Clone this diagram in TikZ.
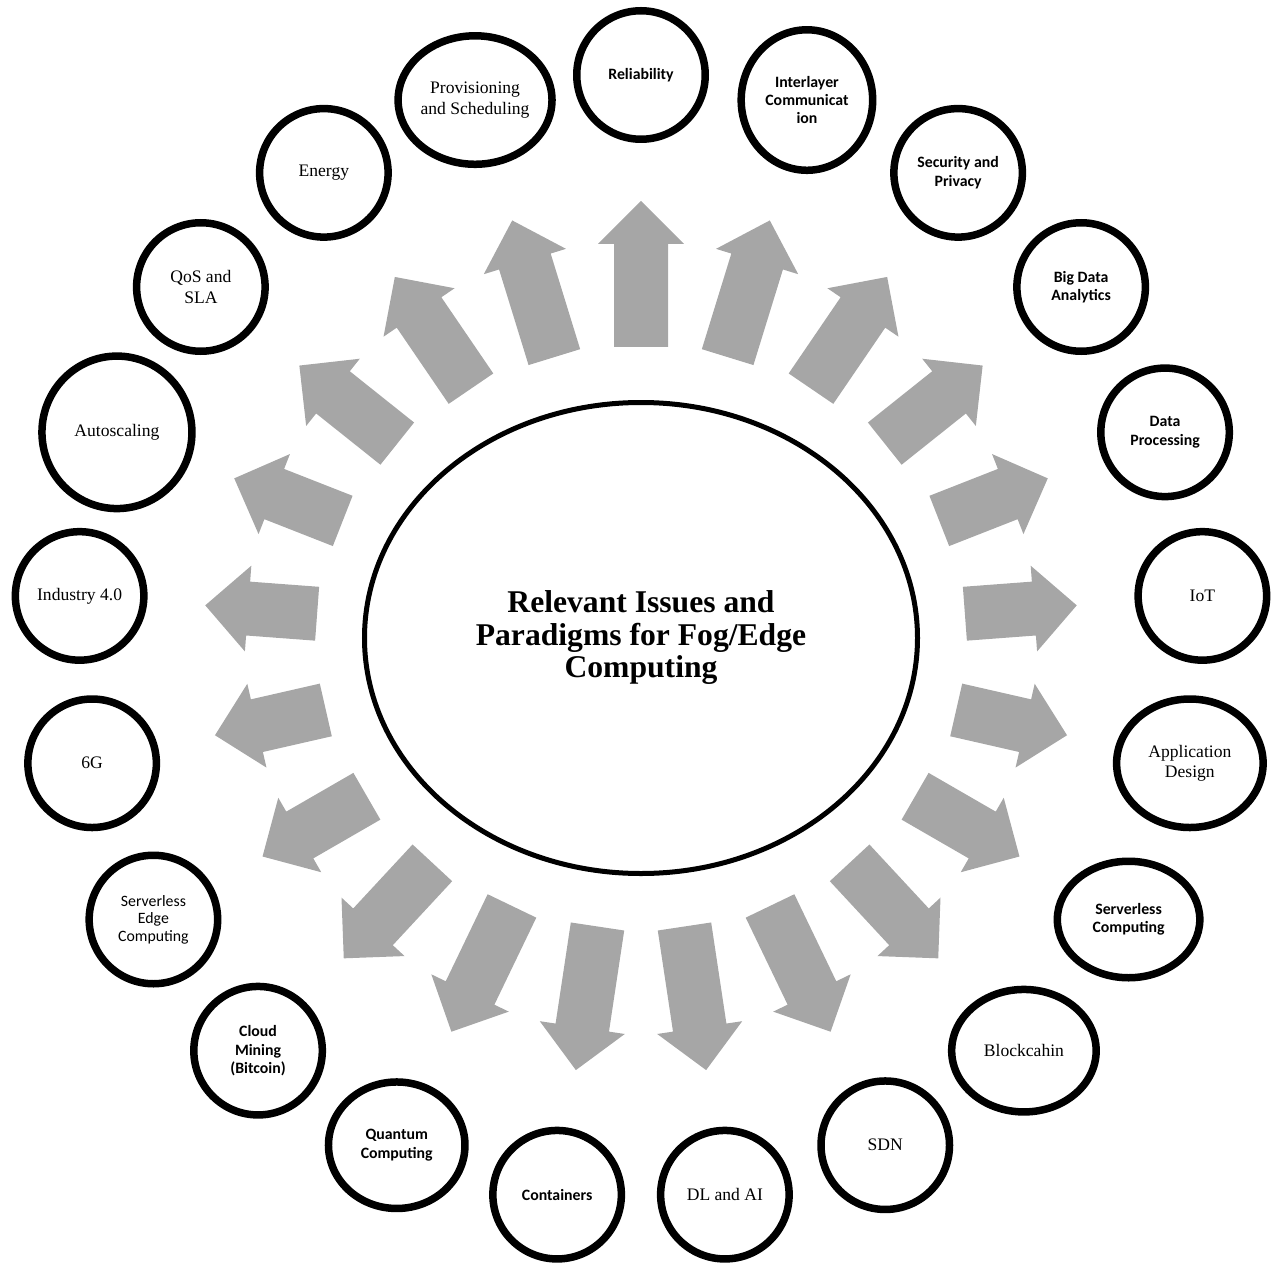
\documentclass[tikz,border=0pt]{standalone}
\usepackage{fontspec}
\setmainfont{Liberation Serif}
\newfontfamily\carlito{Carlito}
\usepackage{tikz}
\usetikzlibrary{shapes.geometric}
\definecolor{AGray}{HTML}{A6A6A6}

\begin{document}
\begin{tikzpicture}[
  topic/.style={draw=black,line width=0.15cm,fill=white,ellipse,
    minimum width=2.57cm,minimum height=2.57cm,inner sep=0pt,align=center,
    font=\fontsize{10}{11.5}\selectfont},
  btopic/.style={topic,font=\carlito\bfseries\fontsize{9}{10.5}\selectfont},
  ctopic/.style={topic,font=\carlito\fontsize{9}{10}\selectfont},
  hub/.style={draw=black,line width=0.1cm,fill=white,ellipse,
    minimum width=11.06cm,minimum height=9.42cm,inner sep=0pt,align=center,
    font=\bfseries\fontsize{18}{18.5}\selectfont},
  blk/.style={fill=AGray}
]
  \useasboundingbox (-12.82,-12.52) rectangle (12.76,12.76);

  % centre
  \node[hub] (hub) at (0,0) {Relevant Issues and\\Paradigms for Fog/Edge\\Computing};

  % ring of topics, clockwise from the top
  \node[btopic] (rel) at (90:11.26) {Reliability};
  \node[btopic,minimum width=2.63cm,minimum height=2.81cm] (inter) at (72.857:11.26) {Interlayer\\Communicat\\ion};
  \node[btopic] (sec) at (55.714:11.26) {Security and\\Privacy};
  \node[btopic] (bigdata) at (38.571:11.26) {Big Data\\Analytics};
  \node[btopic] (dataproc) at (21.429:11.26) {Data\\Processing};
  \node[topic] (iot) at (4.286:11.26) {IoT};
  \node[topic,minimum width=2.93cm] (appdesign) at (-12.857:11.26) {Application\\Design};
  \node[btopic,minimum width=2.85cm,minimum height=2.33cm] (srvcomp) at (-30:11.26) {Serverless\\Computing};
  \node[topic,minimum width=2.89cm,minimum height=2.45cm] (chain) at (-47.143:11.26) {Blockcahin};
  \node[topic] (sdn) at (-64.286:11.26) {SDN};
  \node[topic] (dlai) at (-81.429:11.26) {DL and AI};
  \node[btopic] (cont) at (-98.571:11.26) {Containers};
  \node[btopic,minimum width=2.73cm,minimum height=2.53cm] (quant) at (-115.714:11.26) {Quantum\\Computing};
  \node[btopic] (mining) at (-132.857:11.26) {Cloud\\Mining\\(Bitcoin)};
  \node[ctopic] (srvedge) at (-150:11.26) {Serverless\\Edge\\Computing};
  \node[topic] (sixg) at (-167.143:11.26) {6G};
  \node[topic] (ind) at (175.714:11.26) {Industry 4.0};
  \node[topic,minimum width=3.0cm,minimum height=3.05cm] (autosc) at (158.571:11.26) {Autoscaling};
  \node[topic] (qos) at (141.429:11.26) {QoS and\\SLA};
  \node[topic] (energy) at (124.286:11.26) {Energy};
  \node[topic,minimum width=3.05cm] (prov) at (107.143:11.26) {Provisioning\\and Scheduling};

  % block arrows out of the centre
  \foreach \k in {0,...,20}{
    \pgfmathsetmacro{\a}{90-\k*360/21}
    \pgfmathsetmacro{\rt}{5.82+0.68*cos(\a)*cos(\a)}
    \begin{scope}[shift={(hub.center)},rotate=\a]
      \fill[blk] (\rt,-0.54) -- (7.88,-0.54) -- (7.88,-0.86) -- (8.74,0)
        -- (7.88,0.86) -- (7.88,0.54) -- (\rt,0.54) -- cycle;
    \end{scope}
  }
\end{tikzpicture}
\end{document}
